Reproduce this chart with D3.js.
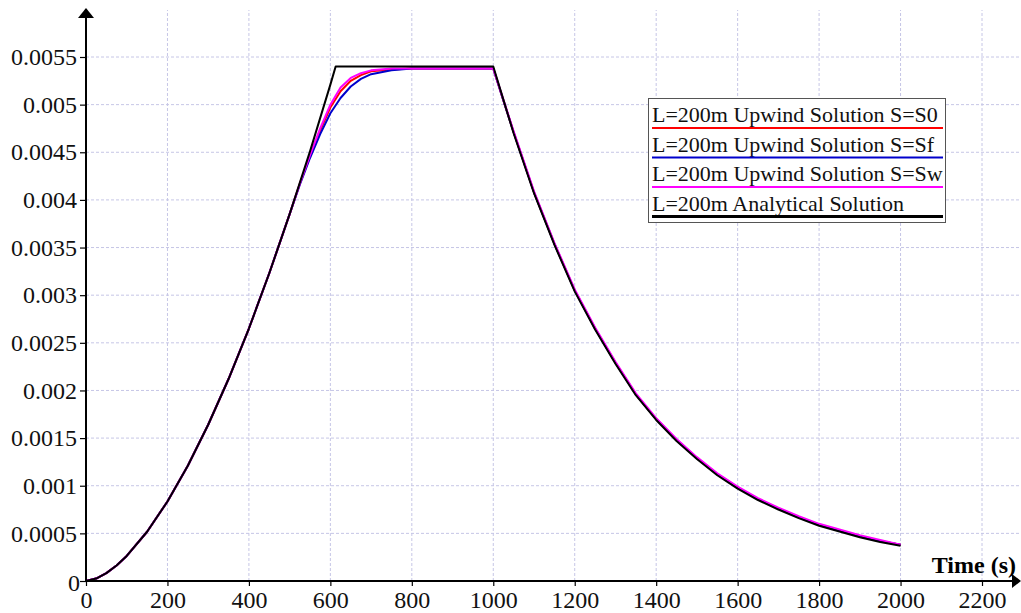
<!DOCTYPE html>
<html lang="en">
<head>
    <meta charset="utf-8">
    <script src="https://cdn.jsdelivr.net/npm/d3@7"></script>
    <style type="text/css">
        body { margin: 0; background: #fff; }
        text { font-family: "Liberation Serif", "Times New Roman", serif; }
    </style>
</head>
<body>
    <script>
        // values
        let analyticalTime = [0, 25, 50, 75, 100, 150, 200, 250, 300, 350, 400, 450, 500, 550, 600, 613,
            1000, 1025, 1050, 1100, 1150, 1200, 1250, 1300, 1350, 1400, 1450, 1500, 1550, 1600,
            1650, 1700, 1750, 1800, 1850, 1900, 1950, 2000];
        let analyticalValue = [0, 0.000026, 0.000083, 0.000163, 0.000263, 0.000517, 0.000835, 0.00121, 0.00164,
            0.00212, 0.00265, 0.00323, 0.00385, 0.00451, 0.00521, 0.0054,
            0.0054, 0.00505, 0.0047, 0.00407, 0.00353, 0.00304, 0.00264, 0.00228, 0.00195, 0.00169,
            0.00147, 0.00128, 0.00111, 0.00097, 0.00085, 0.00075, 0.00066, 0.00058, 0.00052, 0.00046,
            0.00041, 0.00037];

        let upwindTime = [0, 25, 50, 75, 100, 150, 200, 250, 300, 350, 400, 450, 500, 525, 550, 575, 600,
            625, 650, 675, 700, 750, 800, 900, 1000, 1025, 1050, 1100, 1150, 1200, 1250, 1300, 1350,
            1400, 1450, 1500, 1550, 1600, 1650, 1700, 1750, 1800, 1850, 1900, 1950, 2000];
        let upwindS0 = [0, 0.000026, 0.000083, 0.000163, 0.000263, 0.000517, 0.000835, 0.00121, 0.00164,
            0.00212, 0.00265, 0.00323, 0.00385, 0.00417, 0.00446, 0.00473, 0.00497,
            0.00514, 0.00525, 0.00531, 0.00535, 0.00537, 0.00538, 0.00538, 0.00538, 0.00504, 0.00471,
            0.00408, 0.00354, 0.00305, 0.00265, 0.00229, 0.00196, 0.0017, 0.00148, 0.00129, 0.00112,
            0.00098, 0.00086, 0.00076, 0.00067, 0.00059, 0.00053, 0.00047, 0.00042, 0.00038];
        let upwindSf = [0, 0.000026, 0.000083, 0.000163, 0.000263, 0.000517, 0.000835, 0.00121, 0.00164,
            0.00212, 0.00265, 0.00323, 0.00385, 0.00416, 0.00444, 0.00469, 0.00491,
            0.00507, 0.00519, 0.00527, 0.00532, 0.00536, 0.00538, 0.00538, 0.00538, 0.00504, 0.00471,
            0.00408, 0.00354, 0.00305, 0.00265, 0.00229, 0.00196, 0.0017, 0.00148, 0.00129, 0.00112,
            0.00098, 0.00086, 0.00076, 0.00067, 0.00059, 0.00053, 0.00047, 0.00042, 0.00038];
        let upwindSw = [0, 0.000026, 0.000083, 0.000163, 0.000263, 0.000517, 0.000835, 0.00121, 0.00164,
            0.00212, 0.00265, 0.00323, 0.00385, 0.00417, 0.00447, 0.00475, 0.005,
            0.00518, 0.00528, 0.00533, 0.00536, 0.00538, 0.00538, 0.00538, 0.00538, 0.00505, 0.00472,
            0.00409, 0.00355, 0.00306, 0.00266, 0.0023, 0.00197, 0.00171, 0.00149, 0.0013, 0.00113,
            0.00099, 0.00087, 0.00077, 0.00068, 0.0006, 0.00054, 0.00048, 0.00043, 0.00038];

        let xTicks = [0, 200, 400, 600, 800, 1000, 1200, 1400, 1600, 1800, 2000, 2200];
        let yTicks = [0, 0.0005, 0.001, 0.0015, 0.002, 0.0025, 0.003, 0.0035, 0.004, 0.0045, 0.005, 0.0055];
        let yTickLabels = ["0", "0.0005", "0.001", "0.0015", "0.002", "0.0025", "0.003", "0.0035",
            "0.004", "0.0045", "0.005", "0.0055"];
        let legendLabels = ["L=200m Upwind Solution S=S0", "L=200m Upwind Solution S=Sf",
            "L=200m Upwind Solution S=Sw", "L=200m Analytical Solution"];
        let legendColors = ["#ff0000", "#0000cc", "#ff00ff", "#000000"];

        let w = 1021;
        let h = 613;
        let svg = d3.select("body")
                    .append("svg")
                    .attr("width", w)
                    .attr("height", h);

        let xScale = d3.scaleLinear().domain([0, 2200]).range([86, 982]);
        let yScale = d3.scaleLinear().domain([0, 0.0055]).range([581, 57]);

        // grid
        svg.append("g").selectAll("line")
            .data(xTicks.slice(1))
            .enter()
            .append("line")
            .attr("x1", (d) => xScale(d))
            .attr("x2", (d) => xScale(d))
            .attr("y1", 581)
            .attr("y2", 10)
            .attr("stroke", "#c6c6e6")
            .attr("stroke-dasharray", "3,2");

        svg.append("g").selectAll("line")
            .data(yTicks.slice(1))
            .enter()
            .append("line")
            .attr("x1", 86)
            .attr("x2", w)
            .attr("y1", (d) => yScale(d))
            .attr("y2", (d) => yScale(d))
            .attr("stroke", "#c6c6e6")
            .attr("stroke-dasharray", "3,2");

        // curves
        let line = d3.line()
                    .x((d) => xScale(d[0]))
                    .y((d) => yScale(d[1]));

        let series = [
            {t: upwindTime, v: upwindS0, c: legendColors[0]},
            {t: upwindTime, v: upwindSf, c: legendColors[1]},
            {t: upwindTime, v: upwindSw, c: legendColors[2]},
            {t: analyticalTime, v: analyticalValue, c: legendColors[3]}
        ];

        svg.append("g").selectAll("path")
            .data(series)
            .enter()
            .append("path")
            .attr("d", (s) => line(s.t.map((t, i) => [t, s.v[i]])))
            .attr("fill", "none")
            .attr("stroke", (s) => s.c)
            .attr("stroke-width", 2)
            .attr("stroke-linejoin", "round");

        // axes
        let xAxis = d3.axisBottom(xScale).tickValues(xTicks).tickSize(5).tickFormat(d3.format("d"));
        let gx = svg.append("g")
            .attr("transform", "translate(0,581)")
            .call(xAxis);
        gx.select(".domain").remove();
        gx.selectAll("line").attr("stroke", "#000").attr("stroke-width", 1.2);
        gx.selectAll("text")
            .attr("y", 27)
            .attr("dy", 0)
            .attr("fill", "#111")
            .style("font-size", "24px")
            .style("font-family", "Liberation Serif");

        let yAxis = d3.axisLeft(yScale).tickValues(yTicks).tickSize(6).tickPadding(3)
            .tickFormat((d, i) => yTickLabels[i]);
        let gy = svg.append("g")
            .attr("transform", "translate(86,0)")
            .call(yAxis);
        gy.select(".domain").remove();
        gy.selectAll("line").attr("stroke", "#000").attr("stroke-width", 1.2);
        gy.selectAll("text")
            .attr("fill", "#111")
            .style("font-size", "24px")
            .style("font-family", "Liberation Serif");
        // the 0 label sits a bit lower
        gy.selectAll(".tick text").filter((d) => d === 0).attr("x", -6).attr("dy", "0.4em");

        svg.append("line")
            .attr("x1", 86).attr("x2", 86)
            .attr("y1", 582).attr("y2", 16)
            .attr("stroke", "#000").attr("stroke-width", 2);
        svg.append("line")
            .attr("x1", 85).attr("x2", 1014)
            .attr("y1", 581).attr("y2", 581)
            .attr("stroke", "#000").attr("stroke-width", 2);
        svg.append("path")
            .attr("d", "M86,8 L78,18 L94,18 Z")
            .attr("fill", "#000");
        svg.append("path")
            .attr("d", "M1021,581 L1012,574 L1012,588 Z")
            .attr("fill", "#000");

        svg.append("text")
            .attr("x", 1016)
            .attr("y", 573)
            .attr("text-anchor", "end")
            .attr("font-weight", "bold")
            .style("font-size", "24px")
            .text("Time (s)");

        // legend
        let legend = svg.append("g");
        legend.append("rect")
            .attr("x", 648.5)
            .attr("y", 98.5)
            .attr("width", 297)
            .attr("height", 124)
            .attr("fill", "#fff")
            .attr("stroke", "#555")
            .attr("stroke-width", 1);

        let rows = legend.selectAll("g.row")
            .data(legendLabels)
            .enter()
            .append("g")
            .attr("class", "row")
            .attr("transform", (d, i) => "translate(0," + (i * 29.5) + ")");

        rows.append("text")
            .attr("x", 652)
            .attr("y", 122)
            .attr("fill", "#111")
            .style("font-size", "22px")
            .text((d) => d);

        rows.append("line")
            .attr("x1", 652)
            .attr("x2", 943)
            .attr("y1", 128)
            .attr("y2", 128)
            .attr("stroke", (d, i) => legendColors[i])
            .attr("stroke-width", (d, i) => i === 3 ? 3 : 2);
    </script>
</body>
</html>
